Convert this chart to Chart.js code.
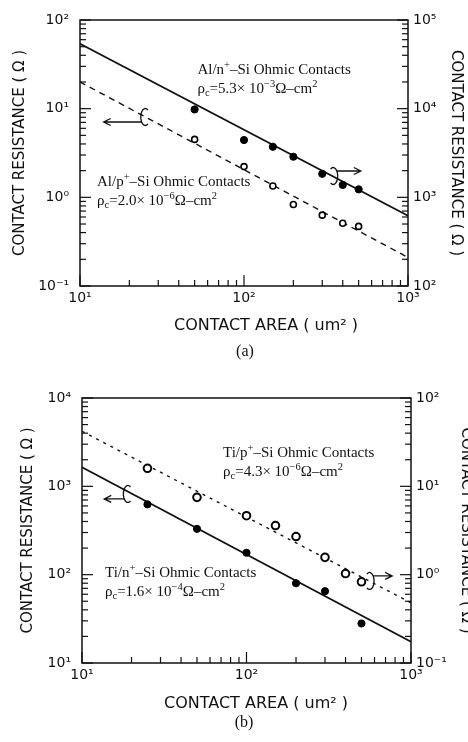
<!DOCTYPE html>
<html>
<head>
<meta charset="utf-8">
<script src="https://cdn.jsdelivr.net/npm/chart.js@4"></script>
<style>
  html, body { margin: 0; padding: 0; background: #fff; }
  #wrap { position: relative; width: 468px; height: 742px; overflow: hidden; }
  canvas { position: absolute; left: 0; }
  #ca { top: 0; }
  #cb { top: 370px; }
</style>
</head>
<body>
<div id="wrap">
  <canvas id="ca" width="468" height="370"></canvas>
  <canvas id="cb" width="468" height="372"></canvas>
</div>
<script>
// ---- panel (a): Al contacts
var areaA = [50, 100, 150, 200, 300, 400, 500];
var rAlN = [9800, 4430, 3720, 2870, 1840, 1380, 1230];   // Al/n+  (right axis)
var rAlP = [4.5, 2.22, 1.34, 0.83, 0.63, 0.51, 0.47];    // Al/p+  (left axis)
var fitArea = [10, 1000];
var fitAlN = [54000, 620];
var fitAlP = [20, 0.21];

// ---- panel (b): Ti contacts
var areaTiN = [25, 50, 100, 200, 300, 500];
var rTiN = [625, 330, 177, 80, 65, 28];                  // Ti/n+  (left axis)
var areaTiP = [25, 50, 100, 150, 200, 300, 400, 500];
var rTiP = [16, 7.5, 4.65, 3.6, 2.7, 1.57, 1.03, 0.83];  // Ti/p+  (right axis)
var fitTiN = [1640, 17.4];
var fitTiP = [42, 0.48];

// ---- ticks / texts
var xTicks = [10, 100, 1000];
var yTicksA = [0.1, 1, 10, 100];
var y2TicksA = [100, 1000, 10000, 100000];
var yTicksB = [10, 100, 1000, 10000];
var y2TicksB = [0.1, 1, 10, 100];
var yTitle = 'CONTACT RESISTANCE ( \u03A9 )';
var xTitle = 'CONTACT AREA ( um\u00B2 )';

var SUP = {'0':'\u2070','1':'\u00B9','2':'\u00B2','3':'\u00B3','4':'\u2074','5':'\u2075','-':'\u207B'};
function powLabel(v) {
  var e = String(Math.round(Math.log10(v)));
  return '10' + e.split('').map(function(c){ return SUP[c]; }).join('');
}
function pts(xs, ys) {
  return xs.map(function(x, i){ return {x: x, y: ys[i]}; });
}

// draws "a^{sup}_{sub}" style strings
function drawRich(ctx, str, x, y, size) {
  var parts = str.split(/(\^\{[^}]*\}|_\{[^}]*\})/);
  parts.forEach(function(p){
    if (!p) return;
    var s = size, dy = 0, t = p;
    if (p.indexOf('^{') === 0) { t = p.slice(2, -1); s = size * 0.7; dy = -size * 0.42; }
    else if (p.indexOf('_{') === 0) { t = p.slice(2, -1); s = size * 0.7; dy = size * 0.22; }
    ctx.font = s + 'px "Liberation Serif"';
    ctx.fillText(t, x, y + dy);
    x += ctx.measureText(t).width;
  });
}

function drawHook(ctx, chart, h) {
  var cx = chart.scales.x.getPixelForValue(h.x);
  var cy = chart.scales[h.axis].getPixelForValue(h.y);
  var rx = 4.5, ry = 8.5;
  ctx.beginPath();
  if (h.dir < 0) ctx.ellipse(cx, cy, rx, ry, 0, -Math.PI * 0.3, Math.PI * 0.3, true);
  else ctx.ellipse(cx, cy, rx, ry, 0, Math.PI * 1.3, Math.PI * 0.7, false);
  ctx.stroke();
  var ay = cy - h.dir * 5;
  var x0 = cx + h.dir * rx * 0.8, x1 = x0 + h.dir * h.len;
  ctx.beginPath();
  ctx.moveTo(x0, ay); ctx.lineTo(x1, ay);
  ctx.moveTo(x1 - h.dir * 7, ay - 3.5); ctx.lineTo(x1, ay); ctx.lineTo(x1 - h.dir * 7, ay + 3.5);
  ctx.stroke();
}

var decor = {
  id: 'decor',
  afterDraw: function(chart) {
    var ctx = chart.ctx, a = chart.chartArea, d = chart.options.plugins.decor;
    ctx.save();
    ctx.strokeStyle = '#111';
    ctx.lineWidth = 1.5;
    ctx.strokeRect(a.left, a.top, a.right - a.left, a.bottom - a.top);
    // inward log ticks
    ctx.lineWidth = 1.2;
    ['x', 'y', 'y2'].forEach(function(id){
      var s = chart.scales[id];
      var e0 = Math.floor(Math.log10(s.min) + 1e-9), e1 = Math.ceil(Math.log10(s.max) - 1e-9);
      for (var e = e0; e <= e1; e++) {
        for (var m = 1; m <= 9; m++) {
          var v = m * Math.pow(10, e);
          if (v < s.min * 0.999 || v > s.max * 1.001) continue;
          var L = m === 1 ? 11 : 6;
          var p = s.getPixelForValue(v);
          ctx.beginPath();
          if (id === 'x') { ctx.moveTo(p, a.bottom); ctx.lineTo(p, a.bottom - L); }
          else if (id === 'y') { ctx.moveTo(a.left, p); ctx.lineTo(a.left + L, p); }
          else { ctx.moveTo(a.right, p); ctx.lineTo(a.right - L, p); }
          ctx.stroke();
        }
      }
    });
    // annotations
    ctx.fillStyle = '#111';
    ctx.textBaseline = 'alphabetic';
    ctx.textAlign = 'left';
    d.labels.forEach(function(l){
      var px = chart.scales.x.getPixelForValue(l.x);
      var py = chart.scales.y.getPixelForValue(l.y);
      l.lines.forEach(function(t, i){ drawRich(ctx, t, px, py + i * 19, 15); });
    });
    ctx.lineWidth = 1.3;
    d.hooks.forEach(function(h){ drawHook(ctx, chart, h); });
    // x title + caption
    ctx.textAlign = 'center';
    ctx.textBaseline = 'middle';
    ctx.font = '16px "DejaVu Sans"';
    ctx.fillText(xTitle, d.xTitleX, d.xTitleY);
    ctx.font = '16px "Liberation Serif"';
    ctx.fillText(d.caption, d.capX, d.capY);
    ctx.restore();
  }
};

function logAxis(pos, min, max, ticks, size, pad, title, titlePad) {
  return {
    type: 'logarithmic', position: pos, min: min, max: max,
    grid: { display: false, drawTicks: false },
    border: { display: false },
    ticks: {
      autoSkip: false, maxRotation: 0, padding: pad, color: '#111',
      font: { family: 'DejaVu Sans', size: 14 },
      callback: function(v){ return powLabel(v); }
    },
    title: title ? { display: true, text: title, color: '#111',
      font: { family: 'DejaVu Sans', size: 15 }, padding: { top: titlePad, bottom: 0 } } : { display: false },
    afterBuildTicks: function(s){ s.ticks = ticks.map(function(v){ return {value: v}; }); },
    afterFit: function(s){ if (s.isHorizontal()) s.height = size; else s.width = size; }
  };
}

function makeChart(id, panel) {
  new Chart(document.getElementById(id), {
    type: 'scatter',
    data: { datasets: panel.datasets },
    options: {
      responsive: false, animation: false, devicePixelRatio: 1,
      layout: { padding: { top: panel.padTop, left: 0, right: 0, bottom: 0 } },
      plugins: { legend: { display: false }, tooltip: { enabled: false }, decor: panel.decor },
      scales: {
        x: logAxis('bottom', 10, 1000, xTicks, panel.bottomH, 4),
        y: logAxis('left', panel.yMin, panel.yMax, panel.yTicks, panel.leftW, 11, yTitle, panel.lTitlePad),
        y2: logAxis('right', panel.y2Min, panel.y2Max, panel.y2Ticks, panel.rightW, 5, yTitle, panel.rTitlePad)
      }
    },
    plugins: [decor]
  });
}

makeChart('ca', {
  padTop: 20, leftW: 80, rightW: 60, bottomH: 84,
  yMin: 0.1, yMax: 100, yTicks: yTicksA, y2Min: 100, y2Max: 100000, y2Ticks: y2TicksA,
  lTitlePad: 11, rTitlePad: 3,
  datasets: [
    { label: 'Al/n+', data: pts(areaA, rAlN), yAxisID: 'y2', showLine: false,
      pointRadius: 3.6, pointBackgroundColor: '#000', pointBorderColor: '#000', pointBorderWidth: 1 },
    { label: 'Al/p+', data: pts(areaA, rAlP), yAxisID: 'y', showLine: false,
      pointRadius: 3, pointBackgroundColor: '#fff', pointBorderColor: '#000', pointBorderWidth: 1.6 },
    { label: 'Al/n+ fit', data: pts(fitArea, fitAlN), yAxisID: 'y2', showLine: true,
      borderColor: '#111', borderWidth: 1.8, pointRadius: 0 },
    { label: 'Al/p+ fit', data: pts(fitArea, fitAlP), yAxisID: 'y', showLine: true,
      borderColor: '#111', borderWidth: 1.4, borderDash: [6, 5], pointRadius: 0 }
  ],
  decor: {
    labels: [
      { x: 52, y: 24.6, lines: ['Al/n^{+}\u2013Si Ohmic Contacts', '\u03C1_{c}=5.3\u00D7 10^{\u22123}\u03A9\u2013cm^{2}'] },
      { x: 12.7, y: 1.34, lines: ['Al/p^{+}\u2013Si Ohmic Contacts', '\u03C1_{c}=2.0\u00D7 10^{\u22126}\u03A9\u2013cm^{2}'] }
    ],
    hooks: [
      { x: 25, y: 8.05, axis: 'y', dir: -1, len: 38 },
      { x: 350, y: 1740, axis: 'y2', dir: 1, len: 24 }
    ],
    xTitleX: 266, xTitleY: 326, caption: '(a)', capX: 245, capY: 352
  }
});

makeChart('cb', {
  padTop: 28, leftW: 82, rightW: 57, bottomH: 79,
  yMin: 10, yMax: 10000, yTicks: yTicksB, y2Min: 0.1, y2Max: 100, y2Ticks: y2TicksB,
  lTitlePad: 19, rTitlePad: -7,
  datasets: [
    { label: 'Ti/n+', data: pts(areaTiN, rTiN), yAxisID: 'y', showLine: false,
      pointRadius: 3.6, pointBackgroundColor: '#000', pointBorderColor: '#000', pointBorderWidth: 1 },
    { label: 'Ti/p+', data: pts(areaTiP, rTiP), yAxisID: 'y2', showLine: false,
      pointRadius: 3.8, pointBackgroundColor: '#fff', pointBorderColor: '#000', pointBorderWidth: 2 },
    { label: 'Ti/n+ fit', data: pts(fitArea, fitTiN), yAxisID: 'y', showLine: true,
      borderColor: '#111', borderWidth: 1.8, pointRadius: 0 },
    { label: 'Ti/p+ fit', data: pts(fitArea, fitTiP), yAxisID: 'y2', showLine: true,
      borderColor: '#111', borderWidth: 1.4, borderDash: [3, 5], pointRadius: 0 }
  ],
  decor: {
    labels: [
      { x: 72, y: 2150, lines: ['Ti/p^{+}\u2013Si Ohmic Contacts', '\u03C1_{c}=4.3\u00D7 10^{\u22126}\u03A9\u2013cm^{2}'] },
      { x: 13.8, y: 94, lines: ['Ti/n^{+}\u2013Si Ohmic Contacts', '\u03C1_{c}=1.6\u00D7 10^{\u22124}\u03A9\u2013cm^{2}'] }
    ],
    hooks: [
      { x: 19, y: 820, axis: 'y', dir: -1, len: 20 },
      { x: 560, y: 0.85, axis: 'y2', dir: 1, len: 19 }
    ],
    xTitleX: 256, xTitleY: 334, caption: '(b)', capX: 244, capY: 353
  }
});
</script>
</body>
</html>
